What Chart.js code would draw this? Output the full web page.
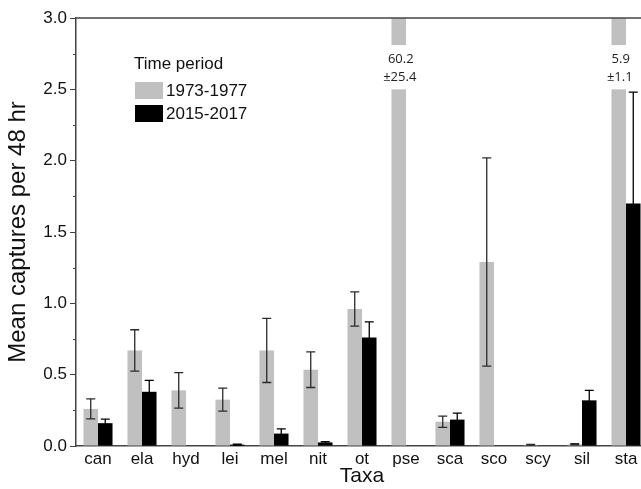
<!DOCTYPE html>
<html>
<head>
<meta charset="utf-8">
<script src="https://cdn.jsdelivr.net/npm/chart.js@4.4.1/dist/chart.umd.min.js"></script>
<style>
html, body { margin: 0; padding: 0; background: #fff; overflow: hidden; }
canvas { display: block; }
</style>
</head>
<body>
<canvas id="myChart" width="650" height="489"></canvas>
<script>
// data
const taxa = ['can', 'ela', 'hyd', 'lei', 'mel', 'nit', 'ot', 'pse', 'sca', 'sco', 'scy', 'sil', 'sta'];
const seriesNames = ['1973-1977', '2015-2017'];
const oldMean = [0.26, 0.67, 0.39, 0.325, 0.67, 0.535, 0.96, 60.2, 0.17, 1.29, 0.006, 0.012, 5.9];
const oldErr  = [0.07, 0.145, 0.125, 0.08, 0.225, 0.125, 0.12, 25.4, 0.04, 0.73, 0.005, 0.004, 1.1];
const newMean = [0.16, 0.38, 0, 0.01, 0.087, 0.025, 0.76, 0, 0.185, 0, 0, 0.32, 1.70];
const newErr  = [0.028, 0.08, 0, 0.003, 0.033, 0.006, 0.11, 0, 0.045, 0, 0, 0.07, 0.78];
const yMax = 3;
const yStep = 0.5;
const breakFrom = 2.5, breakTo = 2.81;

const font = 'Liberation Sans, Arial, sans-serif';
const axisColor = '#444';
const textColor = '#111';

const extras = {
    id: 'extras',
    afterDatasetsDraw(chart) {
        const ctx = chart.ctx;
        const y = chart.scales.y;
        const area = chart.chartArea;

        // broken bars (values off the scale)
        const m0 = chart.getDatasetMeta(0);
        oldMean.forEach((v, i) => {
            if (v <= yMax) return;
            const el = m0.data[i];
            const top = y.getPixelForValue(breakTo);
            const bot = y.getPixelForValue(breakFrom);
            ctx.save();
            ctx.fillStyle = '#fff';
            ctx.fillRect(el.x - el.width / 2 - 1, top, el.width + 2, bot - top);
            ctx.fillStyle = '#222';
            ctx.font = '13px "Open Sans", sans-serif';
            ctx.textAlign = 'center';
            ctx.textBaseline = 'middle';
            ctx.fillText(String(v), el.x + 2, top + 14);
            ctx.fillText('±' + oldErr[i], el.x + 1, top + 32);
            ctx.restore();
        });

        // error bars
        ctx.save();
        ctx.beginPath();
        ctx.rect(area.left, area.top, area.right - area.left, area.bottom - area.top);
        ctx.clip();
        [[oldMean, oldErr, '#2a2a2a'], [newMean, newErr, '#000']].forEach((s, d) => {
            const meta = chart.getDatasetMeta(d);
            s[0].forEach((v, i) => {
                const e = s[1][i];
                if (!e || v > yMax) return;
                const x = meta.data[i].x;
                const hi = y.getPixelForValue(v + e);
                const lo = y.getPixelForValue(Math.max(v - e, 0));
                ctx.strokeStyle = s[2];
                ctx.lineWidth = 1.3;
                ctx.beginPath();
                ctx.moveTo(x, hi); ctx.lineTo(x, lo);
                ctx.moveTo(x - 4.5, hi); ctx.lineTo(x + 4.5, hi);
                ctx.moveTo(x - 4.5, lo); ctx.lineTo(x + 4.5, lo);
                ctx.stroke();
            });
        });
        ctx.restore();
    },
    afterDraw(chart) {
        const ctx = chart.ctx;
        const y = chart.scales.y;
        const area = chart.chartArea;
        ctx.save();
        ctx.strokeStyle = axisColor;
        // top frame line
        ctx.lineWidth = 1.5;
        ctx.beginPath();
        ctx.moveTo(area.left, area.top);
        ctx.lineTo(area.right, area.top);
        ctx.stroke();
        // minor ticks
        ctx.lineWidth = 1;
        for (let v = yStep / 2; v < yMax; v += yStep) {
            const py = Math.round(y.getPixelForValue(v)) + 0.5;
            ctx.beginPath();
            ctx.moveTo(area.left - 3, py);
            ctx.lineTo(area.left, py);
            ctx.stroke();
        }
        // legend
        ctx.font = '17px ' + font;
        ctx.fillStyle = textColor;
        ctx.textBaseline = 'middle';
        ctx.fillText('Time period', 134, 64);
        const cols = ['#c0c0c0', '#000'];
        seriesNames.forEach((n, i) => {
            ctx.fillStyle = cols[i];
            ctx.fillRect(135, 82 + i * 23, 28, 17);
            ctx.fillStyle = textColor;
            ctx.fillText(n, 166, 91 + i * 23);
        });
        ctx.restore();
    }
};

new Chart(document.getElementById('myChart'), {
    type: 'bar',
    data: {
        labels: taxa,
        datasets: [{
            label: seriesNames[0],
            data: oldMean,
            backgroundColor: '#c0c0c0'
        }, {
            label: seriesNames[1],
            data: newMean,
            backgroundColor: '#000'
        }]
    },
    options: {
        responsive: false,
        animation: false,
        categoryPercentage: 0.66,
        barPercentage: 1.0,
        layout: { padding: { top: 18, right: 2, left: 0, bottom: 0 } },
        plugins: {
            legend: { display: false },
            tooltip: { enabled: false }
        },
        scales: {
            x: {
                grid: { display: true, drawOnChartArea: false, drawTicks: false },
                border: { color: axisColor, width: 1.5 },
                ticks: { font: { family: font, size: 17 }, color: textColor, padding: 3, maxRotation: 0 },
                title: { display: true, text: 'Taxa', font: { family: font, size: 21 }, color: textColor, padding: { top: 0, bottom: 0 } },
                afterFit: s => { s.height = 43; }
            },
            y: {
                min: 0,
                max: yMax,
                ticks: { stepSize: yStep, callback: v => v.toFixed(1), font: { family: font, size: 17 }, color: textColor, padding: 3 },
                grid: { drawOnChartArea: false, drawTicks: true, tickLength: 6, color: axisColor },
                border: { color: axisColor, width: 1.5 },
                title: { display: true, text: 'Mean captures per 48 hr', font: { family: font, size: 24 }, color: textColor, padding: { top: 4, bottom: 0 } },
                afterFit: s => { s.width = 76; }
            }
        }
    },
    plugins: [extras]
});
</script>
</body>
</html>
